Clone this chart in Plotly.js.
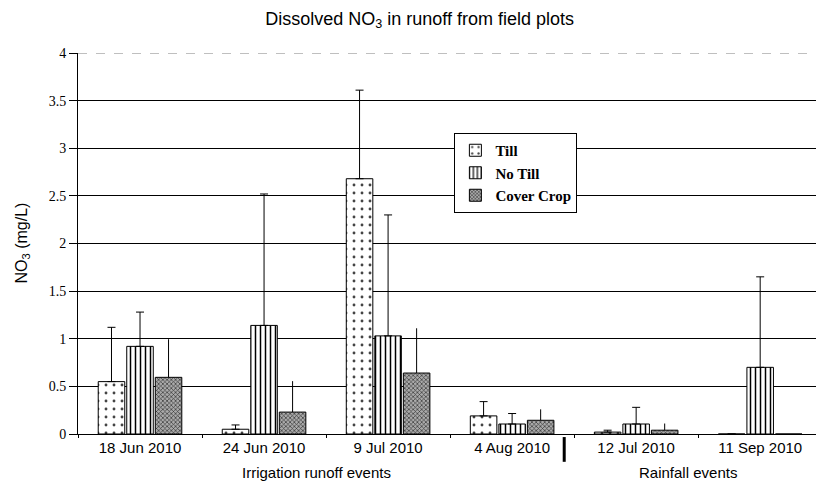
<!DOCTYPE html>
<html>
<head>
<meta charset="utf-8">
<script src="https://cdn.plot.ly/plotly-3.0.1.min.js"></script>
<style>html,body{margin:0;padding:0;background:#fff;}#chart{width:816px;height:484px;}</style>
</head>
<body>
<div id="chart"></div>
<script>
const categories = ["18 Jun 2010", "24 Jun 2010", "9 Jul 2010", "4 Aug 2010", "12 Jul 2010", "11 Sep 2010"];
const seriesNames = ["Till", "No Till", "Cover Crop"];
const tillMean = [0.55, 0.05, 2.68, 0.19, 0.02, 0];
const tillErr = [0.57, 0.045, 0.93, 0.15, 0.02, 0];
const noTillMean = [0.92, 1.14, 1.03, 0.105, 0.105, 0.70];
const noTillErr = [0.36, 1.38, 1.27, 0.11, 0.175, 0.95];
const coverMean = [0.595, 0.23, 0.64, 0.144, 0.04, 0];
const coverErr = [0.40, 0.325, 0.47, 0.115, 0.07, 0];
const yTicks = [0, 0.5, 1, 1.5, 2, 2.5, 3, 3.5, 4];
const yTickText = ["0", "0.5", "1", "1.5", "2", "2.5", "3", "3.5", "4"];
const groupLabels = ["Irrigation runoff events", "Rainfall events"];
const groupPos = [1.42, 4.42];
const separatorPos = 3.42;

const zeros = categories.map(() => 0);
function errObj(arr, w) {
  return {type: 'data', symmetric: false, array: arr, arrayminus: zeros, color: '#000', thickness: 1, width: w, visible: true};
}
const traces = [
  {type: 'bar', name: seriesNames[0], x: categories, y: tillMean, error_y: errObj(tillErr, 4),
   marker: {color: '#ffffff', line: {color: '#000', width: 1}, pattern: {shape: '.', fgcolor: '#444', bgcolor: '#ffffff', size: 8, solidity: 0.1}}},
  {type: 'bar', name: seriesNames[1], x: categories, y: noTillMean, error_y: errObj(noTillErr, 4),
   marker: {color: '#ffffff', line: {color: '#000', width: 1}, pattern: {shape: '|', fgcolor: '#000', bgcolor: '#ffffff', size: 5, solidity: 0.3}}},
  {type: 'bar', name: seriesNames[2], x: categories, y: coverMean, error_y: errObj(coverErr, 0),
   marker: {color: '#999', line: {color: '#000', width: 1}, pattern: {shape: 'x', fgcolor: '#333', bgcolor: '#aaa', size: 3, solidity: 0.4}}}
];

const layout = {
  width: 816, height: 484,
  margin: {l: 78, r: 0, t: 53, b: 50},
  paper_bgcolor: '#fff', plot_bgcolor: '#fff',
  barmode: 'group', bargap: 0.31, bargroupgap: 0.07,
  showlegend: true,
  title: {text: 'Dissolved NO<sub>3</sub> in runoff from field plots', font: {family: 'Liberation Sans, Arial', size: 18, color: '#000'},
          x: 0.463, xanchor: 'center', xref: 'paper', yref: 'container', y: 0.962, yanchor: 'middle'},
  font: {family: 'Liberation Sans, Arial', color: '#000'},
  xaxis: {type: 'category', range: [-0.5, 5.45], showline: true, linecolor: '#000', linewidth: 1,
          ticks: 'outside', tickson: 'boundaries', ticklen: 3, tickcolor: '#000', ticklabelstandoff: 0,
          tickfont: {family: 'Liberation Sans, Arial', size: 15, color: '#000'}, showgrid: false},
  yaxis: {range: [0, 4], tickvals: yTicks, ticktext: yTickText, showline: true, linecolor: '#000', linewidth: 1,
          ticks: 'outside', ticklen: 8, tickcolor: '#000', showgrid: true, gridcolor: '#000', gridwidth: 1,
          zeroline: false, tickfont: {family: 'Liberation Serif, Times New Roman', size: 14, color: '#000'}},
  legend: {x: 0.51, y: 0.79, xanchor: 'left', yanchor: 'top', bgcolor: '#fff', bordercolor: '#000', borderwidth: 1,
           font: {family: 'Liberation Serif, Times New Roman', size: 15, color: '#000', weight: 'bold'},
           itemwidth: 30, tracegroupgap: 0, traceorder: 'normal'},
  annotations: [
    {text: 'NO<sub>3</sub> (mg/L)', xref: 'paper', yref: 'y', x: (22 - 78) / 738, y: 2.0, textangle: -90, showarrow: false,
     xanchor: 'center', yanchor: 'middle', font: {family: 'Liberation Sans, Arial', size: 16, color: '#000'}},
    {text: groupLabels[0], xref: 'x', yref: 'paper', x: groupPos[0], y: -0.102, showarrow: false, xanchor: 'center', yanchor: 'middle',
     font: {family: 'Liberation Sans, Arial', size: 15, color: '#000'}},
    {text: groupLabels[1], xref: 'x', yref: 'paper', x: groupPos[1], y: -0.102, showarrow: false, xanchor: 'center', yanchor: 'middle',
     font: {family: 'Liberation Sans, Arial', size: 15, color: '#000'}}
  ],
  shapes: [
    {type: 'line', xref: 'x', yref: 'paper', x0: separatorPos, x1: separatorPos, y0: -0.008, y1: -0.073, line: {color: '#000', width: 3}},
    {type: 'line', xref: 'paper', yref: 'y', x0: 0, x1: 1, y0: 4, y1: 4, line: {color: '#aaa', width: 1.5, dash: 'dash'}}
  ]
};
Plotly.newPlot('chart', traces, layout, {displayModeBar: false, staticPlot: true});
</script>
</body>
</html>
